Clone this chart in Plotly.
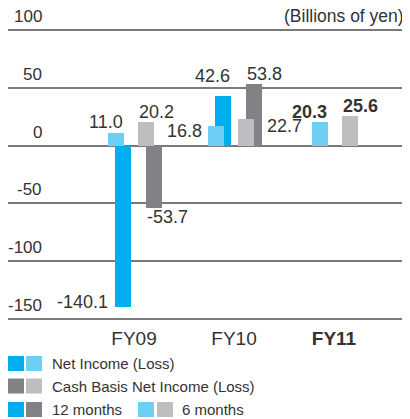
import plotly.graph_objects as go

# ---- data ----
categories = ["FY09", "FY10", "FY11"]
tick_labels = ["FY09", "FY10", "<b>FY11</b>"]
net_income_12m = [-140.1, 42.6, None]
net_income_6m = [11.0, 16.8, 20.3]
cash_basis_12m = [-53.7, 53.8, None]
cash_basis_6m = [20.2, 22.7, 25.6]
y_ticks = [100, 50, 0, -50, -100, -150]

# ---- styles ----
C_NI12 = "#00AEEF"
C_NI6 = "#6DCFF6"
C_CB12 = "#808285"
C_CB6 = "#BCBEC0"
TXT = "#333333"
FONT = "Liberation Sans, Arial, sans-serif"
BW = 0.16
xpos = [0, 1, 2]

offsets = {
    "ni12": [-0.19, -0.19, 0],
    "ni6": [-0.265, -0.26, -0.22],
    "cb12": [0.115, 0.12, 0],
    "cb6": [0.04, 0.04, 0.08],
}
series = {
    "ni12": (net_income_12m, C_NI12),
    "cb12": (cash_basis_12m, C_CB12),
    "ni6": (net_income_6m, C_NI6),
    "cb6": (cash_basis_6m, C_CB6),
}

fig = go.Figure()
for key in ["ni12", "cb12", "ni6", "cb6"]:
    vals, col = series[key]
    fig.add_trace(go.Bar(
        x=xpos, y=vals, width=[BW] * 3, offset=offsets[key],
        marker=dict(color=col, line=dict(width=0)), showlegend=False,
        hoverinfo="skip",
    ))

# data labels: (series, index, edge, xanchor, xshift, yshift, bold)
label_spec = [
    ("ni6", 0, "right", "right", 1, -1, False),
    ("cb6", 0, "left", "left", -1, -2, False),
    ("ni12", 0, "left", "right", -5, -7, False),
    ("cb12", 0, "left", "left", -1, -21, False),
    ("ni6", 1, "left", "right", -4, -17, False),
    ("ni12", 1, "right", "right", 1, 8, False),
    ("cb12", 1, "left", "left", -1, -2, False),
    ("cb12_r", 1, "right", "left", 3, -19, False),
    ("ni6", 2, "right", "right", 1, -2, True),
    ("cb6", 2, "left", "left", -1, -2, True),
]
annotations = []
for key, i, edge, xa, xs, ys, bold in label_spec:
    if key == "cb12_r":
        vals = cash_basis_6m
        off = offsets["cb12"][i]
    else:
        vals = series[key][0]
        off = offsets[key][i]
    v = vals[i]
    xe = xpos[i] + off + (BW if edge == "right" else 0)
    txt = f"{v:.1f}"
    if bold:
        txt = f"<b>{txt}</b>"
    annotations.append(dict(
        x=xe, y=v, xref="x", yref="y", text=txt, showarrow=False,
        xanchor=xa, yanchor="bottom", xshift=xs, yshift=ys,
        font=dict(size=18, color=TXT, family=FONT),
    ))

# y tick labels above gridlines
for t in y_ticks:
    annotations.append(dict(
        x=0.09, y=t, xref="paper", yref="y", text=str(t), showarrow=False,
        xanchor="right", yanchor="bottom", yshift=2,
        font=dict(size=17, color=TXT, family=FONT),
    ))
annotations.append(dict(
    x=1.0, y=100, xref="paper", yref="y", text="(Billions of yen)", showarrow=False,
    xanchor="right", yanchor="bottom", yshift=2, xshift=-2,
    font=dict(size=17.5, color=TXT, family=FONT),
))

# page has an 8px body margin
OFF = 8
W, H = 402, 411
L, T, PW, PH = 0, 21, 400, 291


def px_x(p):
    return (p - OFF - L) / PW


def px_y(p):
    return (T + PH - (p - OFF)) / PH


shapes = []
legend_rows = [
    (363.5, [(8, C_NI12), (26, C_NI6)], 50, "Net Income (Loss)"),
    (386, [(8, C_CB12), (26, C_CB6)], 50, "Cash Basis Net Income (Loss)"),
    (409.5, [(8, C_NI12), (26, C_CB12)], 50, "12 months"),
    (409.5, [(138, C_NI6), (157, C_CB6)], 180, "6 months"),
]
for yc, boxes, tx, label in legend_rows:
    for bx, col in boxes:
        shapes.append(dict(
            type="rect", xref="paper", yref="paper",
            x0=px_x(bx), x1=px_x(bx + 16), y0=px_y(yc - 7.5), y1=px_y(yc + 7.5),
            fillcolor=col, line=dict(width=0),
        ))
    annotations.append(dict(
        x=px_x(tx), y=px_y(yc), xref="paper", yref="paper", text=label,
        showarrow=False, xanchor="left", yanchor="middle",
        font=dict(size=15, color=TXT, family=FONT),
    ))

fig.update_layout(
    width=W, height=H,
    margin=dict(l=L, r=W - L - PW, t=T, b=H - T - PH, pad=0),
    paper_bgcolor="white", plot_bgcolor="white",
    barmode="overlay", bargap=0,
    showlegend=False,
    annotations=annotations, shapes=shapes,
    xaxis=dict(
        range=[-1.26, 2.74], tickvals=xpos, ticktext=tick_labels,
        showgrid=False, zeroline=False, showline=False, ticks="",
        ticklabelstandoff=5,
        tickfont=dict(size=19, color=TXT, family=FONT), fixedrange=True,
    ),
    yaxis=dict(
        range=[-151, 101], tickvals=y_ticks, showticklabels=False,
        showgrid=True, gridcolor="#7a7a7a", gridwidth=1.5,
        zeroline=True, zerolinecolor="#7a7a7a", zerolinewidth=1.5,
        showline=False, ticks="", fixedrange=True,
    ),
)

fig.write_html("out.html", config={"displayModeBar": False})
